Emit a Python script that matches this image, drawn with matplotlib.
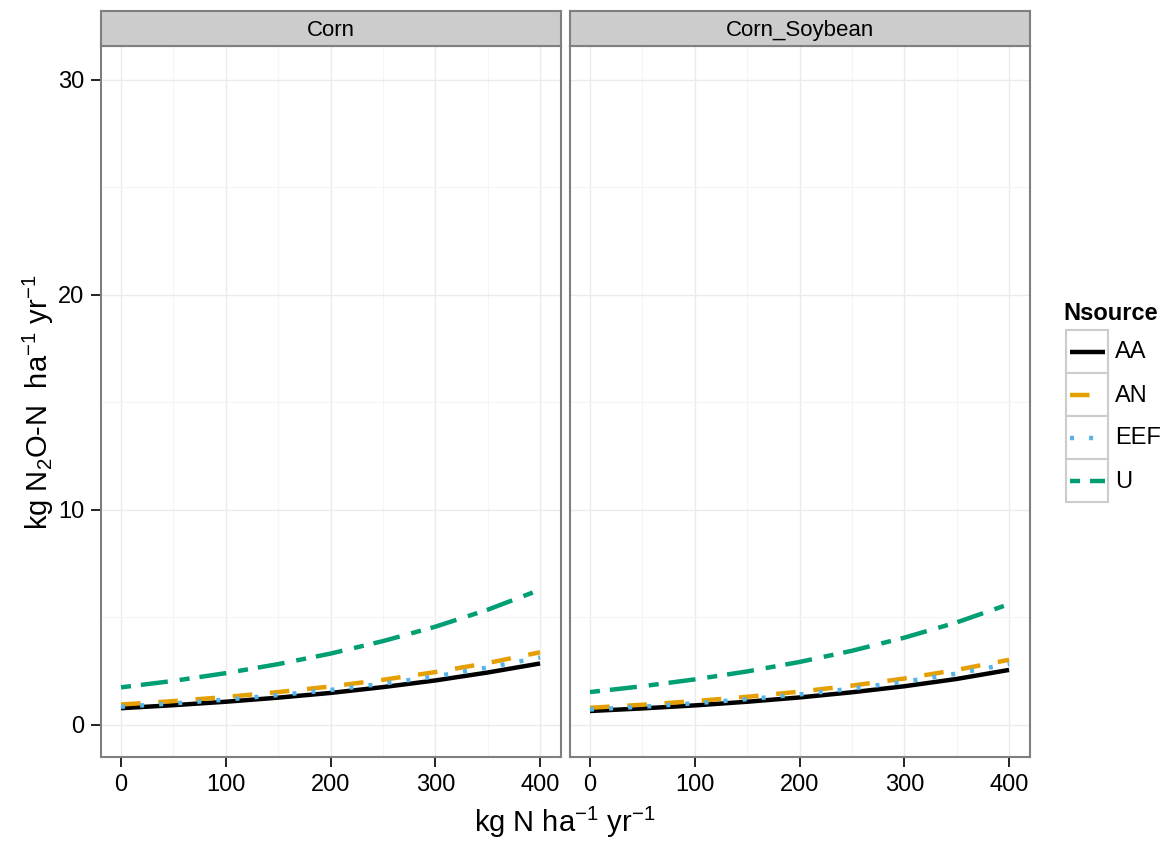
import matplotlib.pyplot as plt
from matplotlib.patches import Rectangle

plt.rcParams['font.family'] = ['Liberation Sans', 'DejaVu Sans']
plt.rcParams['mathtext.fontset'] = 'custom'
plt.rcParams['mathtext.rm'] = 'Liberation Sans'
plt.rcParams['mathtext.it'] = 'Liberation Sans'
plt.rcParams['mathtext.default'] = 'regular'

# Data
n_rate = [0, 50, 100, 150, 200, 250, 300, 350, 400]
panels = ['Corn', 'Corn_Soybean']
sources = ['AA', 'AN', 'EEF', 'U']

corn = {
    'AA':  [0.78, 0.92, 1.08, 1.27, 1.49, 1.76, 2.07, 2.44, 2.86],
    'AN':  [0.95, 1.11, 1.30, 1.53, 1.79, 2.10, 2.46, 2.88, 3.38],
    'EEF': [0.85, 1.00, 1.18, 1.39, 1.63, 1.92, 2.26, 2.67, 3.14],
    'U':   [1.75, 2.05, 2.41, 2.83, 3.32, 3.90, 4.57, 5.36, 6.29],
}
corn_soy = {
    'AA':  [0.65, 0.77, 0.91, 1.08, 1.28, 1.52, 1.80, 2.14, 2.56],
    'AN':  [0.80, 0.94, 1.11, 1.31, 1.55, 1.83, 2.16, 2.56, 3.03],
    'EEF': [0.72, 0.85, 1.01, 1.20, 1.42, 1.69, 2.01, 2.39, 2.84],
    'U':   [1.53, 1.80, 2.12, 2.49, 2.93, 3.45, 4.06, 4.77, 5.62],
}
panel_data = [corn, corn_soy]

# Styles
colors = {'AA': 'black', 'AN': '#E69F00', 'EEF': '#56B4E9', 'U': '#009E73'}
dashes = {'AA': None, 'AN': (4.4, 4.0), 'EEF': (0.9, 3.4), 'U': (2.25, 2.25, 6.1, 2.7)}
lw = 3.2

fig = plt.figure(figsize=(11.66, 8.44), dpi=100)
W, H = 1166, 844
lefts = [101, 570]
ax_w = 460
ax_top, ax_bot = 46, 757
strip_top = 11
border = '#7F7F7F'


def style_line(line, src):
    line.set_solid_capstyle('butt')
    line.set_dash_capstyle('butt')
    if dashes[src] is not None:
        line.set_dashes(dashes[src])


for i, (left, name, d) in enumerate(zip(lefts, panels, panel_data)):
    ax = fig.add_axes([left / W, 1 - ax_bot / H, ax_w / W, (ax_bot - ax_top) / H])
    ax.set_xlim(-19.1, 420)
    ax.set_ylim(-1.49, 31.58)
    ax.set_xticks([0, 100, 200, 300, 400])
    ax.set_yticks([0, 10, 20, 30])
    ax.set_xticks([50, 150, 250, 350], minor=True)
    ax.set_yticks([5, 15, 25], minor=True)
    ax.grid(which='major', color='#EBEBEB', lw=1.0)
    ax.grid(which='minor', color='#F5F5F5', lw=0.8)
    ax.set_axisbelow(True)
    ax.tick_params(which='minor', length=0)
    ax.tick_params(which='major', length=7, width=1.4, color='#222222',
                   labelsize=17, labelcolor='black', pad=5)
    for s in ax.spines.values():
        s.set_color(border)
        s.set_linewidth(1.5)
    if i > 0:
        ax.set_yticklabels([])
        ax.tick_params(axis='y', length=0)
    for src in sources:
        line, = ax.plot(n_rate, d[src], color=colors[src], lw=lw)
        style_line(line, src)

    # strip
    sax = fig.add_axes([left / W, 1 - ax_top / H, ax_w / W, (ax_top - strip_top) / H])
    sax.set_facecolor('#CCCCCC')
    sax.set_xticks([])
    sax.set_yticks([])
    for s in sax.spines.values():
        s.set_color(border)
        s.set_linewidth(1.5)
    sax.text(0.5, 0.45, name, ha='center', va='center', fontsize=16,
             transform=sax.transAxes)

fig.text(565 / W, 1 - 822 / H, r'kg N ha$^{-1}$ yr$^{-1}$', ha='center', va='center',
         fontsize=21)
fig.text(38 / W, 1 - 402 / H, r'kg N$_2$O-N  ha$^{-1}$ yr$^{-1}$', ha='center',
         va='center', rotation=90, fontsize=21)

# legend drawn in pixel coordinates
lax = fig.add_axes([0, 0, 1, 1], facecolor='none')
lax.set_xlim(0, W)
lax.set_ylim(H, 0)
lax.axis('off')
lax.text(1063, 313, 'Nsource', fontsize=17, fontweight='bold', ha='left', va='center')
key_x0, key_y0, key_w, key_h = 1066, 330, 42, 43
for k, src in enumerate(sources):
    y0 = key_y0 + k * key_h
    lax.add_patch(Rectangle((key_x0, y0), key_w, key_h, facecolor='white',
                            edgecolor='#CCCCCC', lw=1.5))
    line, = lax.plot([key_x0 + 4, key_x0 + key_w - 3], [y0 + key_h / 2] * 2,
                     color=colors[src], lw=lw)
    style_line(line, src)
    lax.text(1115, y0 + key_h / 2 + 1, src, fontsize=17, ha='left', va='center')

fig.savefig('out.png', dpi=100, facecolor='white')
